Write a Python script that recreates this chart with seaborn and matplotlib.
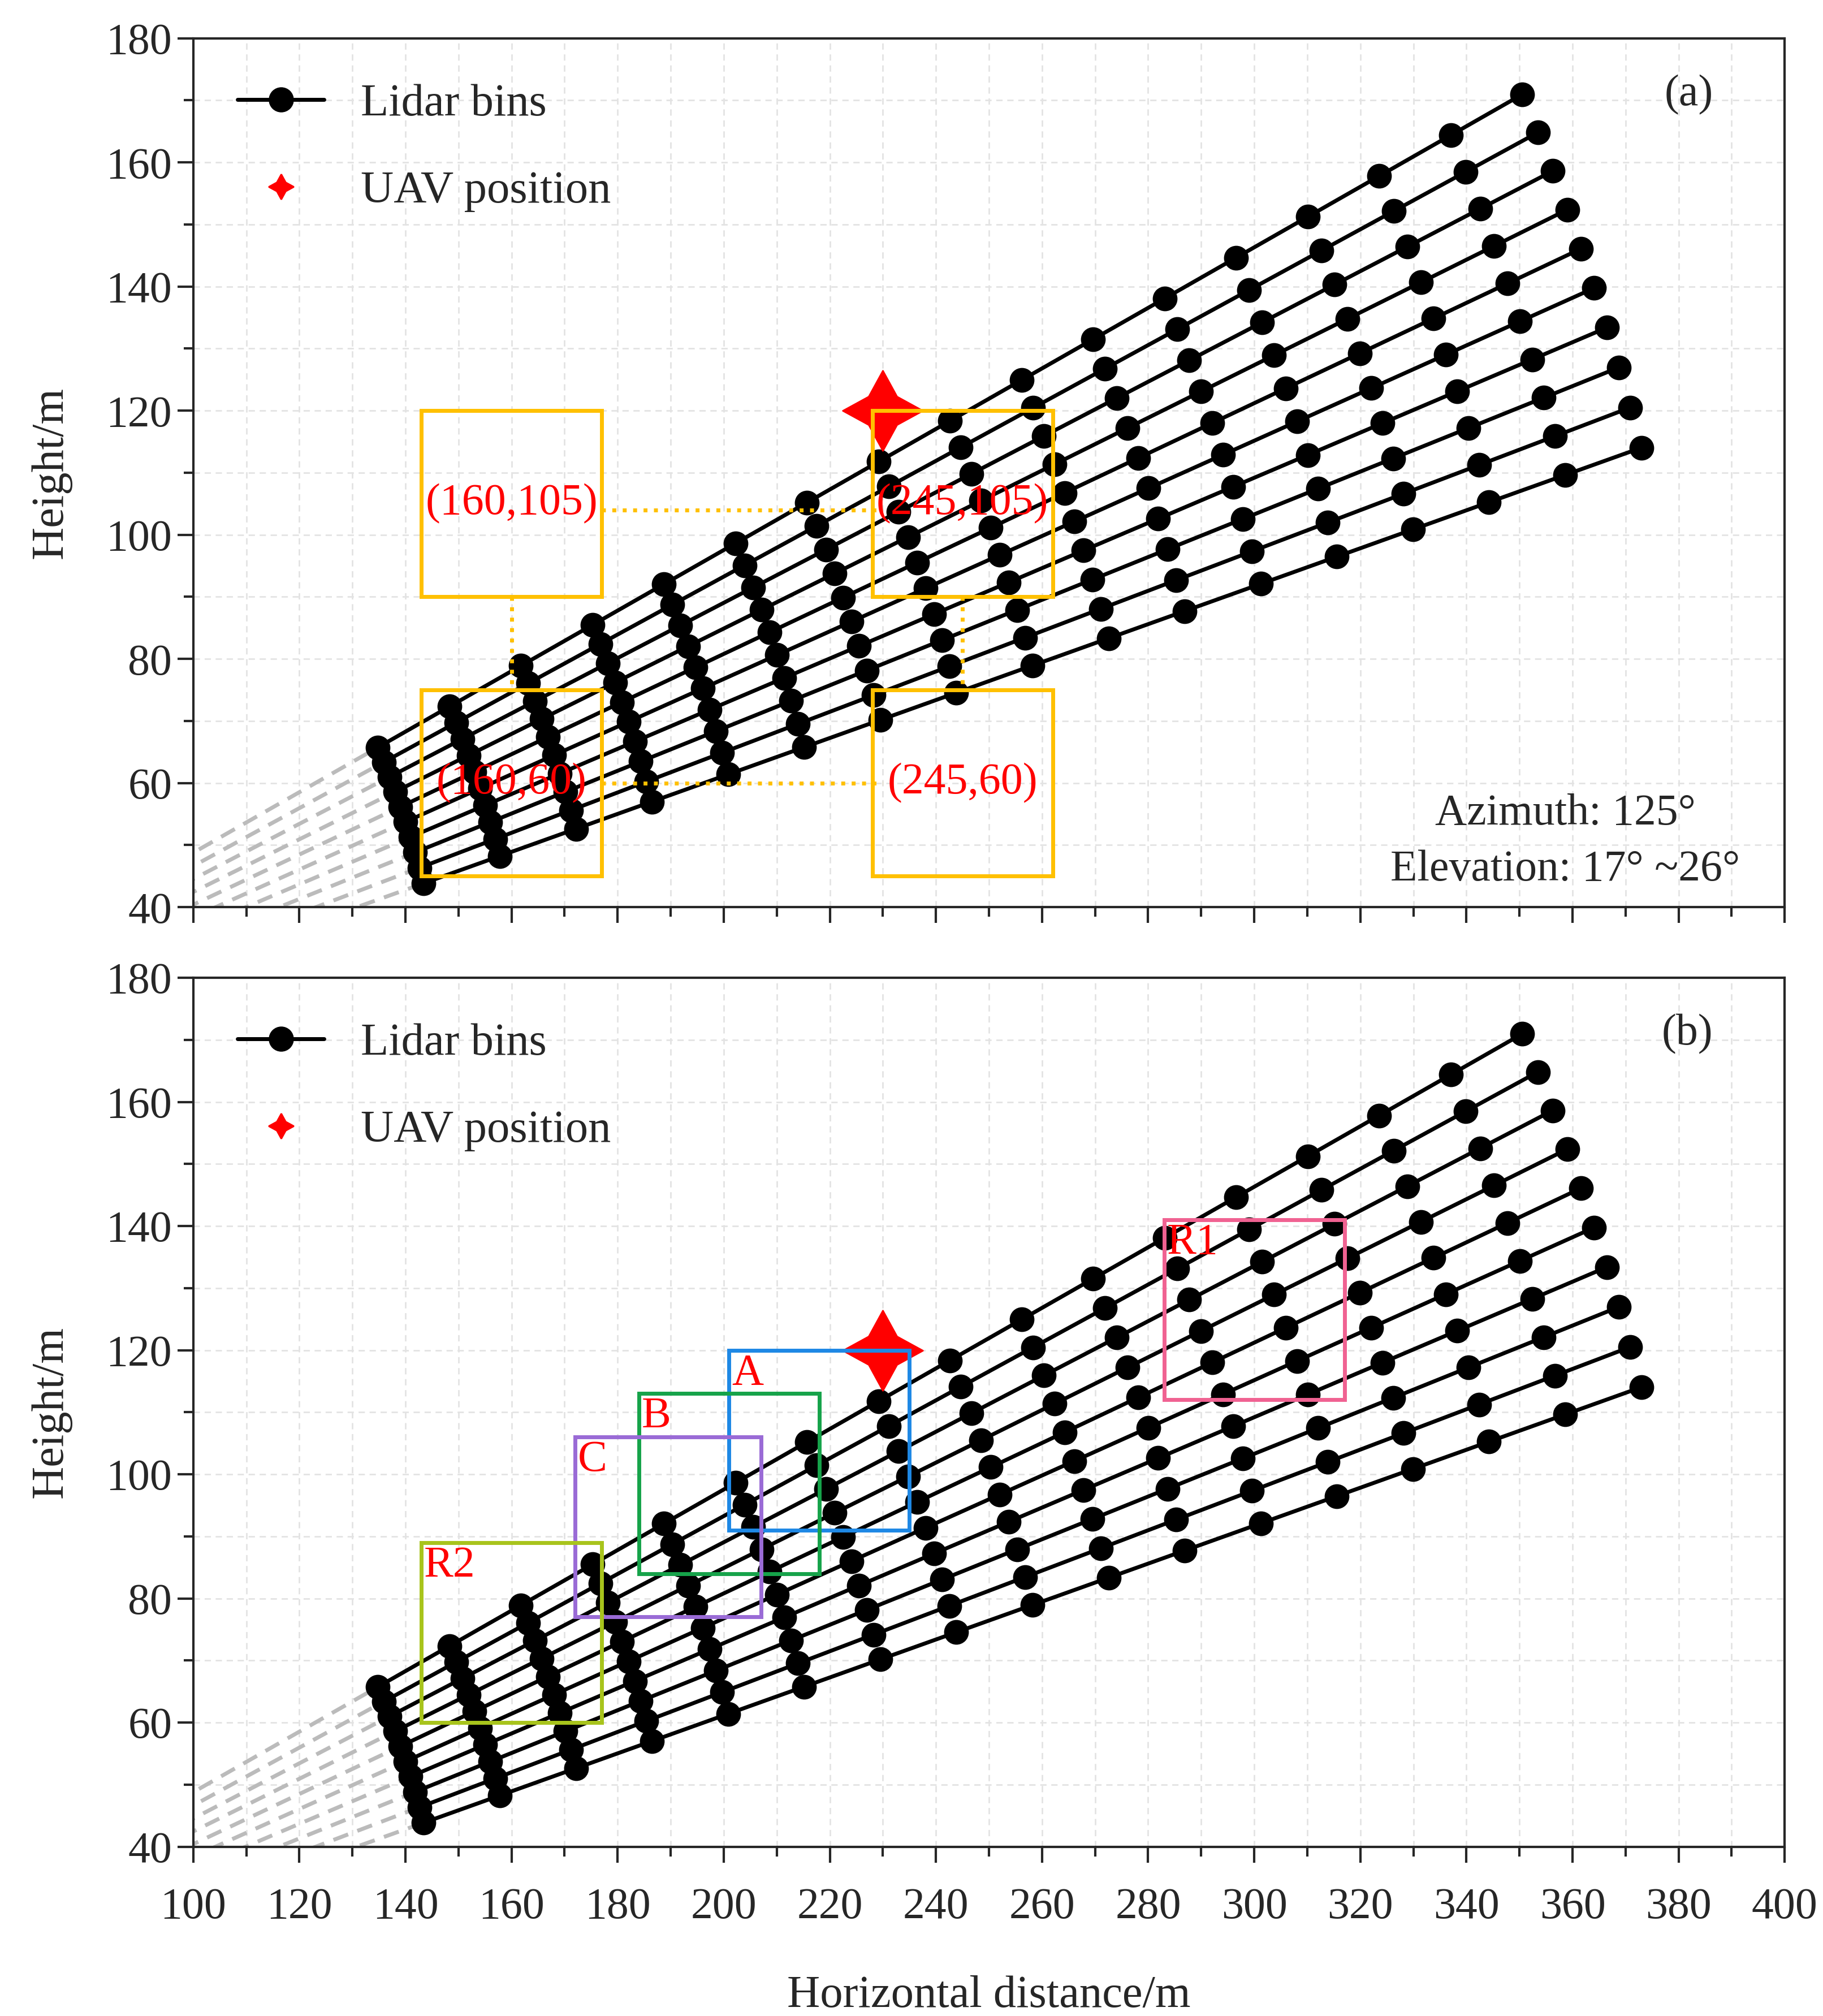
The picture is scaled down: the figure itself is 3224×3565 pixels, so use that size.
import numpy as np
import pandas as pd
import seaborn as sns
import matplotlib.pyplot as plt
from matplotlib.lines import Line2D

# 数据
elevations = [17, 18, 19, 20, 21, 22, 23, 24, 25, 26]      # deg
ranges = [150, 165, 180, 195, 210, 225, 240, 255, 270, 285, 300, 315, 330, 345, 360, 375, 390]  # m
uav = (230, 120)
# (a) 方框中心
boxes_a = [(160, 105), (245, 105), (160, 60), (245, 60)]
labels_a = ['(160,105)', '(245,105)', '(160,60)', '(245,60)']
# (b) 方框 (x0, y0, x1, y1)
boxes_b = [(283, 112, 317, 141), (201, 91, 235, 120), (184, 84, 218, 113), (172, 77, 207, 106), (143, 60, 177, 89)]
labels_b = ['R1', 'A', 'B', 'C', 'R2']
colors_b = ['#F06292', '#1E88E5', '#16A34A', '#9A6BD6', '#A8C41C']

rows = []
for e in elevations:
    for r in ranges:
        rows.append((e, r * np.cos(np.radians(e)), r * np.sin(np.radians(e))))
bins = pd.DataFrame(rows, columns=['elev', 'x', 'y'])

sns.set_style('ticks')
plt.rcParams['font.family'] = ['Liberation Serif', 'DejaVu Serif']
plt.rcParams['font.size'] = 28

fig = plt.figure(figsize=(16.12, 17.825), dpi=200)
ax1 = fig.add_axes([0.106, 0.550, 0.873, 0.431])
ax2 = fig.add_axes([0.106, 0.084, 0.873, 0.431])

gold = '#FFC000'
for ax, tag in [(ax1, '(a)'), (ax2, '(b)')]:
    # 原点到第一个距离门的虚线
    for e in elevations:
        c = np.cos(np.radians(e)); s = np.sin(np.radians(e))
        ax.plot([0, 150 * c], [0, 150 * s], ls=(0, (4, 2.5)), color='#BBBBBB', lw=2.5, zorder=1)
    sns.lineplot(data=bins, x='x', y='y', units='elev', estimator=None, sort=False,
                 color='black', lw=2.5, marker='o', markersize=15, markeredgecolor='black',
                 ax=ax, zorder=3, legend=False)
    ax.scatter([uav[0]], [uav[1]], marker=(4, 1, 0), s=2600, color='red', zorder=5)
    ax.set_xlim(100, 400); ax.set_ylim(40, 180)
    ax.set_xticks(np.arange(100, 401, 20)); ax.set_xticks(np.arange(100, 401, 10), minor=True)
    ax.set_yticks(np.arange(40, 181, 20)); ax.set_yticks(np.arange(40, 181, 10), minor=True)
    ax.grid(True, which='both', ls=(0, (4, 3)), color='#E3E3E3', lw=1)
    ax.set_axisbelow(True)
    ax.tick_params(which='major', length=10, width=1.5, labelsize=28)
    ax.tick_params(axis='x', which='major', pad=16)
    ax.tick_params(which='minor', length=6, width=1.5)
    for sp in ax.spines.values():
        sp.set_linewidth(1.5)
    ax.set_ylabel('Height/m', fontsize=29, labelpad=22)
    ax.text(0.955, 0.935, tag, transform=ax.transAxes, fontsize=28, ha='right', va='center')
    handles = [Line2D([], [], color='black', lw=2.5, marker='o', ms=15),
               Line2D([], [], color='red', lw=0, marker=(4, 1, 0), ms=16)]
    ax.legend(handles, ['Lidar bins', 'UAV position'], loc='upper left', frameon=False,
              fontsize=29, labelspacing=1.0, handlelength=1.9, borderaxespad=0.4,
              bbox_to_anchor=(0.005, 0.99))

ax1.set_xlabel(''); ax1.set_xticklabels([])
ax2.set_xlabel('Horizontal distance/m', fontsize=29, labelpad=30)

# (a) 方框和连接虚线
for (cx, cy), lab in zip(boxes_a, labels_a):
    ax1.add_patch(plt.Rectangle((cx - 17, cy - 15), 34, 30, fill=False, ec=gold, lw=2.5, zorder=6))
    ax1.text(cx, cy, lab, color='red', fontsize=28, ha='center', va='center', zorder=7)
ax1.plot([177, 230], [104, 104], ls=':', color=gold, lw=2.5, zorder=6)
ax1.plot([177, 230], [60, 60], ls=':', color=gold, lw=2.5, zorder=6)
ax1.plot([160, 160], [90, 75], ls=':', color=gold, lw=2.5, zorder=6)
ax1.plot([245, 245], [90, 75], ls=':', color=gold, lw=2.5, zorder=6)
ax1.text(0.972, 0.075, 'Azimuth: 125°\nElevation: 17° ~26°', transform=ax1.transAxes,
         fontsize=28, ha='right', va='center', multialignment='center', linespacing=1.5)

# (b) 方框
for (x0, y0, x1, y1), lab, c in zip(boxes_b, labels_b, colors_b):
    ax2.add_patch(plt.Rectangle((x0, y0), x1 - x0, y1 - y0, fill=False, ec=c, lw=2.5, zorder=6))
    ax2.text(x0 + 0.5, y1 - 0.5, lab, color='red', fontsize=28, ha='left', va='top', zorder=7)

fig.savefig('out.png', dpi=200)
